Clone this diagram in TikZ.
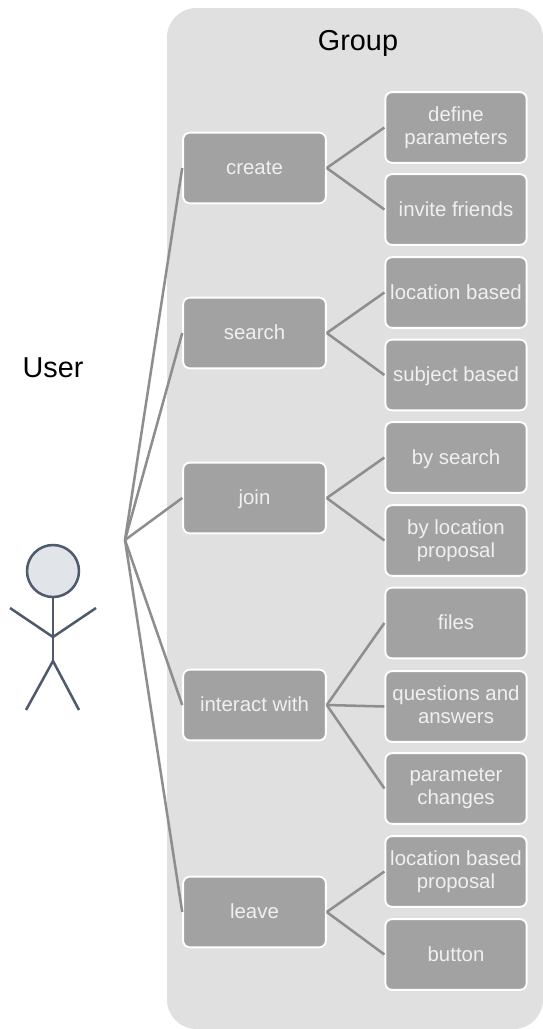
\documentclass[tikz,border=0pt]{standalone}
\usepackage{fontspec}
\setmainfont{Liberation Sans}
\usetikzlibrary{arrows}

\definecolor{panelgray}{HTML}{E0E0E0}
\definecolor{boxgray}{HTML}{A2A2A2}
\definecolor{linegray}{HTML}{8E8E8E}
\definecolor{labelgray}{HTML}{F0F0F0}
\definecolor{figureblue}{HTML}{4F5B6C}
\definecolor{headgray}{HTML}{E1E4E8}

\begin{document}
\begin{tikzpicture}
  [x=0.75pt,y=-0.75pt,every node/.style={align=center,inner sep=0pt}]

  \tikzstyle{action} = [draw=white,fill=boxgray,line width=1.4pt,rounded corners=5pt,
                        text=labelgray,font=\fontsize{15.3}{17}\selectfont,
                        execute at begin node=\rule{0pt}{13pt},execute at end node=\vphantom{p},
                        minimum width=107pt,minimum height=53pt]
  \tikzstyle{detail} = [action,minimum width=106pt]
  \tikzstyle{link}   = [draw=linegray,line width=1.9pt]
  \tikzstyle{person} = [draw=figureblue,line width=1.9pt]
  \tikzstyle{title}  = [font=\fontsize{21.6}{26}\selectfont]

  \useasboundingbox (0,0) rectangle (543,1029);
  \fill[panelgray,rounded corners=22pt] (167,8) rectangle (543,1029);

  \node[title] (group) at (358,43) {Group};
  \node[title] (user) at (53,368) {User};

  \coordinate (hub) at (125,540);

  \node[action] (create)   at (254.5,168) {create};
  \node[action] (search)   at (254.5,333) {search};
  \node[action] (join)     at (254.5,498) {join};
  \node[action] (interact) at (254.5,705) {interact with};
  \node[action] (leave)    at (254.5,912) {leave};

  \node[detail] (define)    at (456,127.5) {define\\parameters};
  \node[detail] (invite)    at (456,209.5) {invite friends};
  \node[detail] (location)  at (456,292.5) {location based};
  \node[detail] (subject)   at (456,375)   {subject based};
  \node[detail] (bysearch)  at (456,457.5) {by search};
  \node[detail] (byprop)    at (456,540.5) {by location\\proposal};
  \node[detail] (files)     at (456,623)   {files};
  \node[detail] (questions) at (456,706.5) {questions and\\answers};
  \node[detail] (changes)   at (456,788.5) {parameter\\changes};
  \node[detail] (locprop)   at (456,871.5) {location based\\proposal};
  \node[detail] (button)    at (456,954.5) {button};

  \path[link]
        (hub) edge (create.west)
        (hub) edge (search.west)
        (hub) edge (join.west)
        (hub) edge (interact.west)
        (hub) edge (leave.west)
        (create.east) edge (define.west)
        (create.east) edge (invite.west)
        (search.east) edge (location.west)
        (search.east) edge (subject.west)
        (join.east) edge (bysearch.west)
        (join.east) edge (byprop.west)
        (interact.east) edge (files.west)
        (interact.east) edge (questions.west)
        (interact.east) edge (changes.west)
        (leave.east) edge (locprop.west)
        (leave.east) edge (button.west);

  \node[person,circle,fill=headgray,minimum size=39pt] (head) at (53,571) {};
  \coordinate (neck) at (53,637);
  \coordinate (hip)  at (53,661);
  \draw[person] (head.south) -- (hip);
  \draw[person] (10,608) -- (neck) -- (96,608);
  \draw[person] (26,710) -- (hip) -- (79,710);
\end{tikzpicture}
\end{document}
